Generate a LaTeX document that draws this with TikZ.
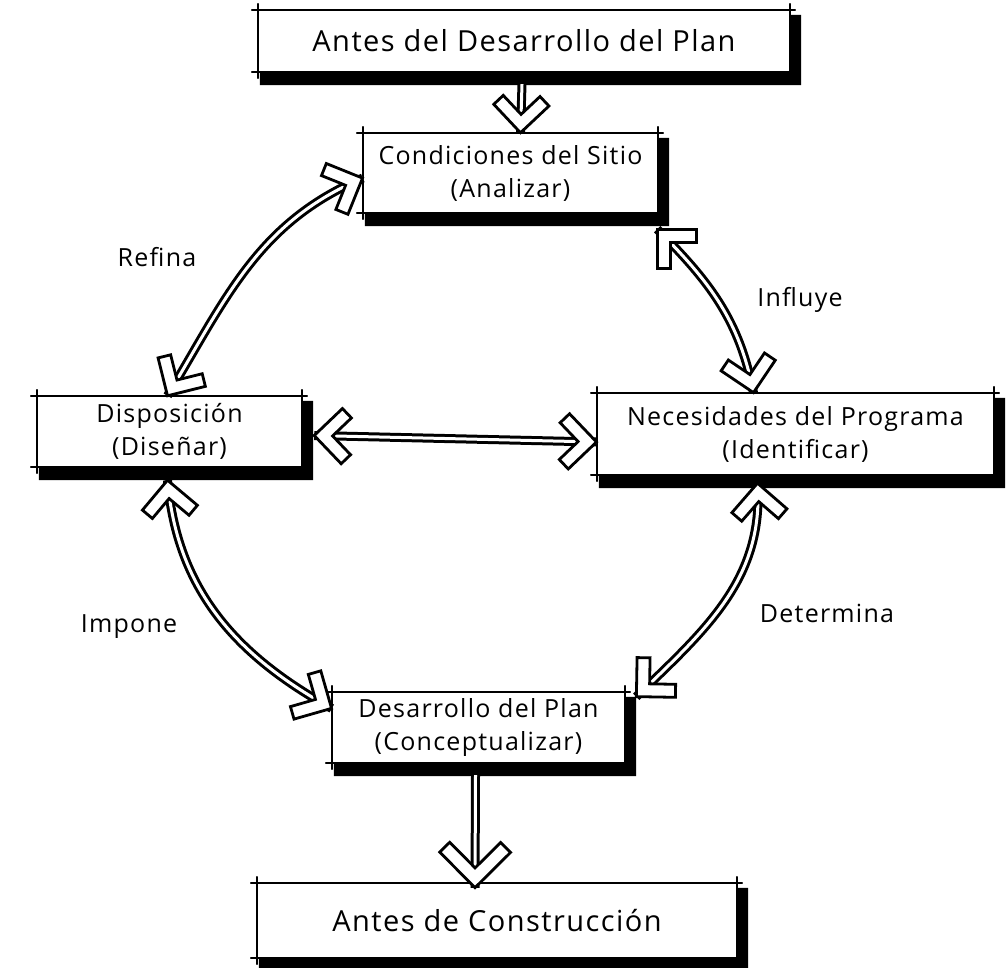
\documentclass[tikz,border=0pt]{standalone}
\usepackage{fontspec}
\setmainfont{Open Sans}[LetterSpace=5]
\usetikzlibrary{decorations.markings}
\newcommand\chevA{\filldraw[chevsty] (0,0) -- (-27.6,27.6) -- (-36.8,18.4) -- (-18.4,0) -- (-36.8,-18.4) -- (-27.6,-27.6) -- cycle;}
\newcommand\chevB{\filldraw[chevsty] (0,0) -- (-35.4,35.4) -- (-45.3,25.5) -- (-19.8,0) -- (-45.3,-25.5) -- (-35.4,-35.4) -- cycle;}
\newcommand\skbox[1]{%
  \draw[boxline] ([xshift=-6pt]#1.north west) -- ([xshift=5pt]#1.north east);
  \draw[boxline] ([xshift=-6pt]#1.south west) -- ([xshift=4pt]#1.south east);
  \draw[boxline] ([yshift=6pt]#1.north west) -- ([yshift=-6pt]#1.south west);
  \draw[boxline] ([yshift=6pt]#1.north east) -- ([yshift=-4pt]#1.south east);
  \fill ([yshift=-5pt]#1.north east) -- ([xshift=11pt,yshift=-5pt]#1.north east)
     -- ([xshift=11pt,yshift=-13pt]#1.south east) -- ([xshift=2pt,yshift=-13pt]#1.south west)
     -- ([xshift=2pt]#1.south west) -- (#1.south east) -- cycle;
}
\tikzset{
  boxnode/.style={inner sep=0pt, align=center, font=\fontsize{25}{33}\selectfont},
  bigfont/.style={font=\fontsize{29}{34}\selectfont},
  boxline/.style={line width=1.5pt, line cap=round},
  lbl/.style={font=\fontsize{25}{30}\selectfont},
  conn/.style={line width=3pt, double=white, double distance=3pt},
  chevsty/.style={draw=black, fill=white, line width=2.8pt, line join=miter},
  both/.style={postaction={decorate, decoration={markings,
      mark=at position 0 with {\begin{scope}[rotate=180]\chevA\end{scope}},
      mark=at position 0.999 with {\chevA}}}},
  endA/.style={postaction={decorate, decoration={markings, mark=at position 0.999 with {\chevA}}}},
  endB/.style={postaction={decorate, decoration={markings, mark=at position 0.999 with {\chevB}}}},
}
\begin{document}
\begin{tikzpicture}[x=1pt, y=1pt]
\useasboundingbox (0,0) rectangle (1006,-968);
\node[boxnode, bigfont, minimum width=532pt, minimum height=62pt] (ante) at (524,-41) {Antes del Desarrollo del Plan};
\node[boxnode, minimum width=295pt, minimum height=80pt] (cond) at (510.5,-173) {Condiciones del Sitio\\(Analizar)};
\node[boxnode, minimum width=265pt, minimum height=71pt] (disp) at (169.5,-431.5) {Disposición\\(Diseñar)};
\node[boxnode, minimum width=397pt, minimum height=82pt] (nec) at (795.5,-434) {Necesidades del Programa\\(Identificar)};
\node[boxnode, minimum width=293pt, minimum height=71pt] (desa) at (478.5,-727.5) {Desarrollo del Plan\\(Conceptualizar)};
\node[boxnode, bigfont, minimum width=480pt, minimum height=75pt] (cons) at (497,-920.5) {Antes de Construcción};
\skbox{ante}
\skbox{cond}
\skbox{disp}
\skbox{nec}
\skbox{desa}
\skbox{cons}
\node[lbl] (refina) at (157,-257) {Refina};
\node[lbl] (influye) at (800,-300) {Influye};
\node[lbl] (impone) at (129,-627) {Impone};
\node[lbl] (determina) at (827,-613) {Determina};
\draw[conn, both] ([xshift=-2pt]disp.north) to[out=59,in=203] ([yshift=-5pt]cond.west);
\draw[conn, both] ([xshift=-1pt,yshift=-16pt]cond.south east) to[out=-45,in=101] ([xshift=-42pt]nec.north);
\draw[conn, both] ([xshift=12pt,yshift=-4pt]disp.east) -- ([yshift=-8pt]nec.west);
\draw[conn, both] ([xshift=-2pt,yshift=-13pt]disp.south) to[out=-85,in=151] ([yshift=19pt]desa.west);
\draw[conn, both] ([xshift=-38pt,yshift=-8pt]nec.south) to[out=-86,in=44] ([xshift=11pt,yshift=-5pt]desa.north east);
\draw[conn, endA] ([xshift=-2pt,yshift=-12pt]ante.south) -- ([xshift=10pt]cond.north);
\draw[conn, endB] ([xshift=-3pt,yshift=-12pt]desa.south) -- ([xshift=-22pt,yshift=-5pt]cons.north);
\end{tikzpicture}
\end{document}
